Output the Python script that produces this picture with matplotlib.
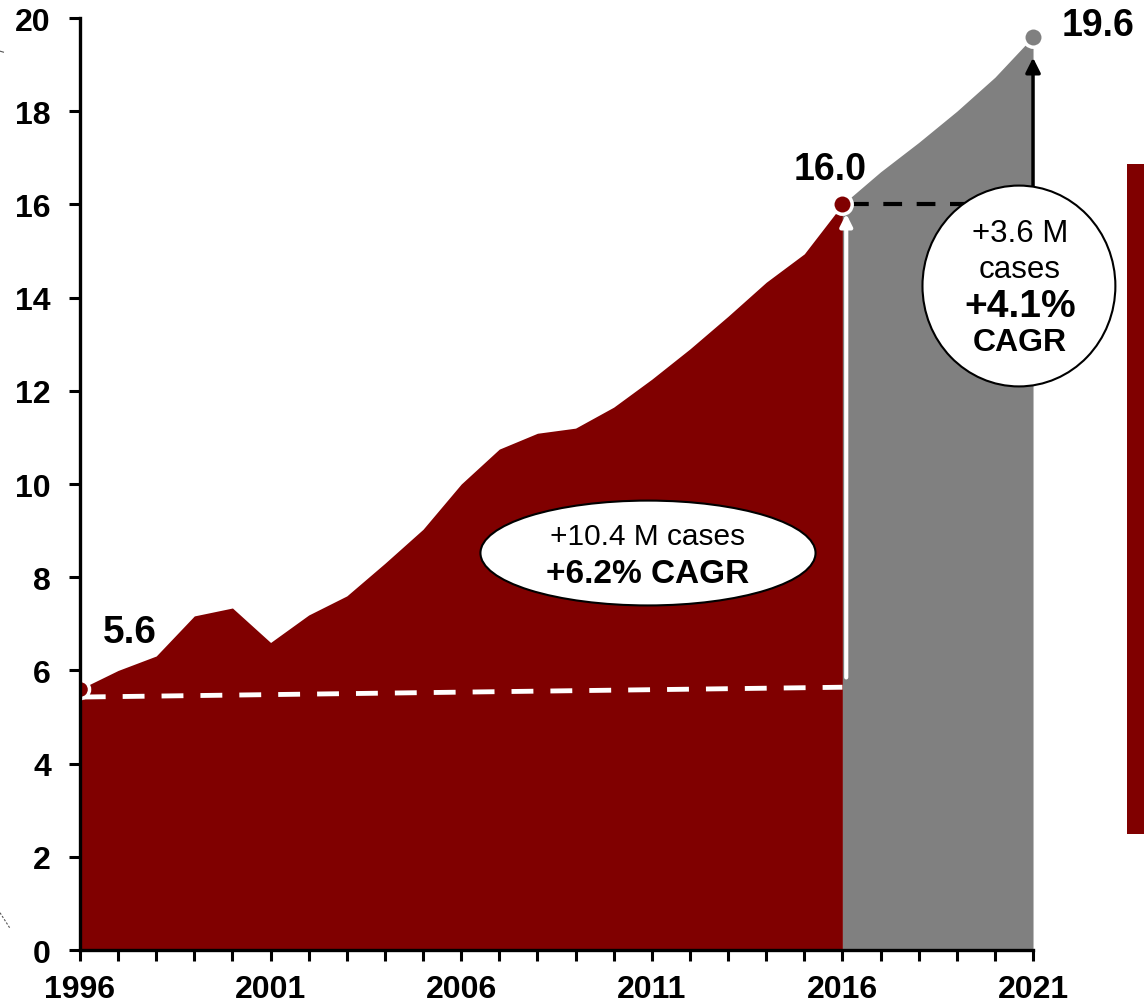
#!/usr/bin/env python3
"""
Case volume 1996-2021: historical area (red) plus forecast area (grey)
"""

import matplotlib
matplotlib.use("Agg")
import matplotlib.pyplot as plt
from matplotlib.patches import Ellipse, Rectangle
from matplotlib.lines import Line2D
from matplotlib.ticker import MultipleLocator, FixedLocator

plt.rcParams['font.family'] = ['Liberation Sans', 'DejaVu Sans']

# historical values (M cases)
hist_years = list(range(1996, 2017))
hist_values = [5.6, 6.0, 6.31, 7.17, 7.34, 6.6, 7.19, 7.6, 8.3, 9.03, 10.0,
               10.75, 11.09, 11.2, 11.65, 12.25, 12.9, 13.6, 14.33, 14.94, 16.0]

# forecast values
fc_years = list(range(2016, 2022))
fc_values = [16.0, 16.7, 17.33, 18.0, 18.73, 19.6]

x_labels = [1996, 2001, 2006, 2011, 2016, 2021]

RED = '#800000'
GREY = '#808080'

fig = plt.figure(figsize=(11.44, 10.03), dpi=100)
ax = fig.add_axes([0.0699, 0.0518, 0.8331, 0.9292])

ax.fill_between(hist_years, hist_values, 0, color=RED, linewidth=0, zorder=1)
ax.fill_between(fc_years, fc_values, 0, color=GREY, linewidth=0, zorder=1)

# baseline dashed line and growth arrows
ax.plot([1996.1, 2016], [5.43, 5.64], color='white', lw=3.5,
        dashes=(4.5, 3.5), zorder=3)
ax.annotate('', xy=(2016.1, 15.8), xytext=(2016.1, 5.85),
            arrowprops=dict(arrowstyle='-|>', color='white', lw=3,
                            mutation_scale=18, shrinkA=0, shrinkB=0), zorder=3)
ax.plot([2016.2, 2020], [16.0, 16.0], color='black', lw=3,
        dashes=(4.5, 3.5), zorder=3)
ax.annotate('', xy=(2021, 19.15), xytext=(2021, 16.3),
            arrowprops=dict(arrowstyle='-|>', color='black', lw=2.5,
                            mutation_scale=22, shrinkA=0, shrinkB=0), zorder=3)

# end-point markers
ax.plot(hist_years[0], hist_values[0], 'o', ms=13, mfc=RED, mec='white',
        mew=2.5, zorder=5)
ax.plot(hist_years[-1], hist_values[-1], 'o', ms=14, mfc=RED, mec='white',
        mew=2.5, zorder=5, clip_on=False)
ax.plot(fc_years[-1], fc_values[-1], 'o', ms=14, mfc=GREY, mec='white',
        mew=2.5, zorder=5, clip_on=False)

ax.text(1997.3, 6.82, '5.6', fontsize=28, fontweight='bold', ha='center', va='center')
ax.text(2015.67, 16.76, '16.0', fontsize=27, fontweight='bold', ha='center', va='center')
ax.text(2022.7, 19.85, '19.6', fontsize=27, fontweight='bold', ha='center',
        va='center', clip_on=False)

# callout bubbles
ax.add_patch(Ellipse((2010.9, 8.52), 8.79, 2.25, facecolor='white',
                     edgecolor='black', lw=1.5, zorder=6))
ax.text(2010.9, 8.88, '+10.4 M cases', fontsize=21.5, ha='center', va='center', zorder=7)
ax.text(2010.9, 8.09, '+6.2% CAGR', fontsize=24, fontweight='bold',
        ha='center', va='center', zorder=7)

ax.add_patch(Ellipse((2020.63, 14.25), 5.06, 4.31, facecolor='white',
                     edgecolor='black', lw=1.5, zorder=6, clip_on=False))
ax.text(2020.65, 15.39, '+3.6 M', fontsize=22.5, ha='center', va='center', zorder=7)
ax.text(2020.65, 14.61, 'cases', fontsize=22.5, ha='center', va='center', zorder=7)
ax.text(2020.65, 13.82, '+4.1%', fontsize=28, fontweight='bold',
        ha='center', va='center', zorder=7)
ax.text(2020.65, 13.05, 'CAGR', fontsize=23, fontweight='bold',
        ha='center', va='center', zorder=7)

# axes styling
ax.set_xlim(1996, 2021)
ax.set_ylim(0, 20)
ax.xaxis.set_major_locator(FixedLocator(x_labels))
ax.xaxis.set_minor_locator(MultipleLocator(1))
ax.yaxis.set_major_locator(MultipleLocator(2))
for s in ['top', 'right']:
    ax.spines[s].set_visible(False)
for s in ['left', 'bottom']:
    ax.spines[s].set_linewidth(2.4)
    ax.spines[s].set_zorder(8)
ax.tick_params(which='both', direction='out', length=8, width=2.2,
               labelsize=23)
ax.tick_params(axis='x', pad=9)
ax.tick_params(axis='y', pad=13)
for lab in ax.get_xticklabels() + ax.get_yticklabels():
    lab.set_fontweight('bold')

# side bar on the right edge
fig.add_artist(Rectangle((0.985, 0.1675), 0.016, 0.668, transform=fig.transFigure,
                         facecolor=RED, edgecolor='none'))
# small stray marks at left edge
fig.add_artist(Line2D([0.0, 0.003], [0.948, 0.947], transform=fig.transFigure,
                      color='#555555', lw=0.8))
fig.add_artist(Line2D([0.0, 0.009], [0.089, 0.073], transform=fig.transFigure,
                      color='#555555', lw=0.8, ls=(0, (2, 1.5))))

fig.savefig('out.png', dpi=100)
